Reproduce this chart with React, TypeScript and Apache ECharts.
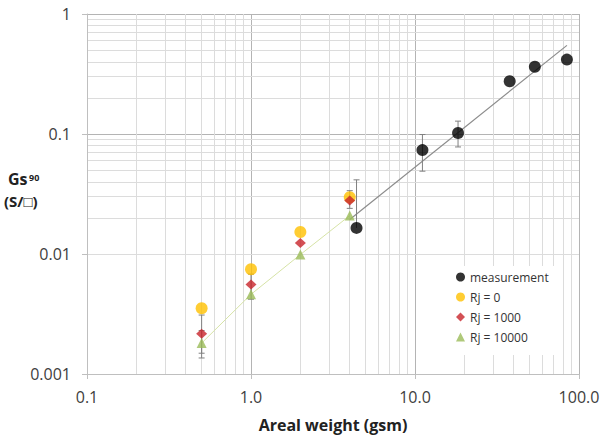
import React, { useEffect, useRef } from "react";
import * as echarts from "echarts";

// Measurement data
const measX = [4.4, 11.1, 18.3, 37.8, 53.8, 84.4];
const measY = [0.0165, 0.0734, 0.102, 0.275, 0.363, 0.417];

// Model data
const rjX = [0.5, 1, 2, 4];
const rj0 = [0.00353, 0.00747, 0.01525, 0.0297];
const rj1000 = [0.00216, 0.00557, 0.01236, 0.0279];
const rj10000 = [0.00181, 0.00461, 0.00989, 0.0209];

// Power-law trend line end points
const trendX = [4.0, 84.4];
const trendY = [0.0194, 0.548];

// Error bars (null low = from the point itself, no lower cap)
const errBarX = [4.4, 11.1, 18.3, 0.5, 0.5, 1, 4];
const errBarBase = [0.0165, 0.0734, 0.102, 0.00216, 0.00181, 0.00557, 0.0279];
const errBarLow: (number | null)[] = [null, 0.049, 0.078, 0.00149, 0.00136, 0.0042, 0.024];
const errBarHigh = [0.0415, 0.099, 0.128, 0.0031, 0.0023, 0.0068, 0.0337];

// Axis ticks
const xDecades = [0.1, 1, 10];
const yDecades = [0.001, 0.01, 0.1];
const minorSteps = [2, 3, 4, 5, 6, 7, 8, 9];

const FONT = "'Open Sans', sans-serif";

export default function App() {
  const ref = useRef<HTMLDivElement>(null);
  useEffect(() => {
    document.body.style.margin = "0";
    if (!ref.current) return;
    const chart = echarts.init(ref.current, undefined, { renderer: "svg" });
    const xMinor: number[] = [];
    xDecades.forEach((d) => minorSteps.forEach((m) => xMinor.push(Number((d * m).toPrecision(3)))));
    const yMinor: number[] = [];
    yDecades.forEach((d) => minorSteps.forEach((m) => yMinor.push(Number((d * m).toPrecision(3)))));

    const errData = errBarX.map((x, i) => [
      x,
      errBarLow[i] == null ? errBarBase[i] : (errBarLow[i] as number),
      errBarHigh[i],
      errBarLow[i] == null ? 0 : 1,
    ]);

    const fmt = (v: number) => String(Number(v.toPrecision(3)));

    chart.setOption({
      animation: false,
      backgroundColor: "#ffffff",
      grid: { left: 87, right: 24, top: 14, bottom: 62, containLabel: false },
      xAxis: {
        type: "log",
        logBase: 10,
        min: 0.1,
        max: 100,
        name: "Areal weight (gsm)",
        nameLocation: "middle",
        nameGap: 43,
        nameTextStyle: { fontFamily: FONT, fontWeight: "bold", fontSize: 16, color: "#222" },
        axisLine: { show: true, lineStyle: { color: "#bfbfbf" } },
        axisTick: { show: true, length: 5, lineStyle: { color: "#bfbfbf" } },
        axisLabel: {
          fontFamily: FONT,
          fontSize: 16,
          color: "#404040",
          margin: 15,
          formatter: (v: number) => (v < 1 ? fmt(v) : Number(v.toPrecision(3)).toFixed(1)),
        },
        splitLine: { show: true, lineStyle: { color: "#b4b4b4", width: 1 } },
      },
      yAxis: {
        type: "log",
        logBase: 10,
        min: 0.001,
        max: 1,
        axisLine: { show: true, lineStyle: { color: "#bfbfbf" } },
        axisTick: { show: true, length: 5, lineStyle: { color: "#bfbfbf" } },
        axisLabel: {
          fontFamily: FONT,
          fontSize: 16,
          color: "#404040",
          margin: 16,
          formatter: (v: number) => fmt(v),
        },
        splitLine: { show: true, lineStyle: { color: "#b4b4b4", width: 1 } },
      },
      legend: {
        orient: "vertical",
        left: 453,
        top: 266,
        backgroundColor: "#ffffff",
        padding: [5, 6, 12, 3],
        itemGap: 8,
        itemWidth: 9,
        itemHeight: 9,
        textStyle: { fontFamily: FONT, fontSize: 12, color: "#333" },
        data: ["measurement", "Rj = 0", "Rj = 1000", "Rj = 10000"],
      },
      graphic: [
        {
          type: "text",
          left: 8,
          top: 171,
          style: { text: "Gs", font: `bold 16px ${FONT}`, fill: "#222" },
        },
        {
          type: "text",
          left: 29,
          top: 173,
          style: { text: "90", font: `bold 9px ${FONT}`, fill: "#222" },
        },
        {
          type: "text",
          left: 4,
          top: 193,
          style: { text: "(S/□)", font: `bold 15px ${FONT}`, fill: "#222" },
        },
      ],
      series: [
        {
          name: "trend",
          type: "line",
          z: 1,
          silent: true,
          symbol: "none",
          data: trendX.map((x, i) => [x, trendY[i]]),
          lineStyle: { color: "#8c8c8c", width: 1.2 },
          markLine: {
            silent: true,
            symbol: "none",
            label: { show: false },
            z: 0,
            lineStyle: { color: "#dcdcdc", width: 1, type: "solid" },
            data: [...xMinor.map((v) => ({ xAxis: v })), ...yMinor.map((v) => ({ yAxis: v }))],
          },
        },
        {
          name: "rjline",
          type: "line",
          z: 2,
          silent: true,
          symbol: "none",
          data: rjX.map((x, i) => [x, rj10000[i]]),
          lineStyle: { color: "#d6e3a6", width: 1 },
        },
        {
          name: "err",
          type: "custom",
          z: 3,
          silent: true,
          data: errData,
          encode: { x: 0, y: [1, 2] },
          renderItem: (params: any, api: any) => {
            const x = api.value(0);
            const lo = api.coord([x, api.value(1)]);
            const hi = api.coord([x, api.value(2)]);
            const capLo = api.value(3);
            const cw = 3;
            const style = { stroke: "#808080", lineWidth: 1 };
            const children: any[] = [
              { type: "line", shape: { x1: hi[0], y1: hi[1], x2: lo[0], y2: lo[1] }, style },
              { type: "line", shape: { x1: hi[0] - cw, y1: hi[1], x2: hi[0] + cw, y2: hi[1] }, style },
            ];
            if (capLo) {
              children.push({ type: "line", shape: { x1: lo[0] - cw, y1: lo[1], x2: lo[0] + cw, y2: lo[1] }, style });
            }
            return { type: "group", children };
          },
        },
        {
          name: "measurement",
          type: "scatter",
          z: 5,
          symbol: "circle",
          symbolSize: 12,
          itemStyle: { color: "#000000" },
          data: measX.map((x, i) => [x, measY[i]]),
        },
        {
          name: "Rj = 0",
          type: "scatter",
          z: 5,
          symbol: "circle",
          symbolSize: 12,
          itemStyle: { color: "#FFC000" },
          data: rjX.map((x, i) => [x, rj0[i]]),
        },
        {
          name: "Rj = 1000",
          type: "scatter",
          z: 6,
          symbol: "diamond",
          symbolSize: [11, 10],
          itemStyle: { color: "#C8242B" },
          data: rjX.map((x, i) => [x, rj1000[i]]),
        },
        {
          name: "Rj = 10000",
          type: "scatter",
          z: 7,
          symbol: "triangle",
          symbolSize: [10, 10],
          itemStyle: { color: "#9BBB59" },
          data: rjX.map((x, i) => [x, rj10000[i]]),
        },
      ],
    });
    return () => chart.dispose();
  }, []);
  return <div ref={ref} style={{ width: 603, height: 438 }} />;
}
